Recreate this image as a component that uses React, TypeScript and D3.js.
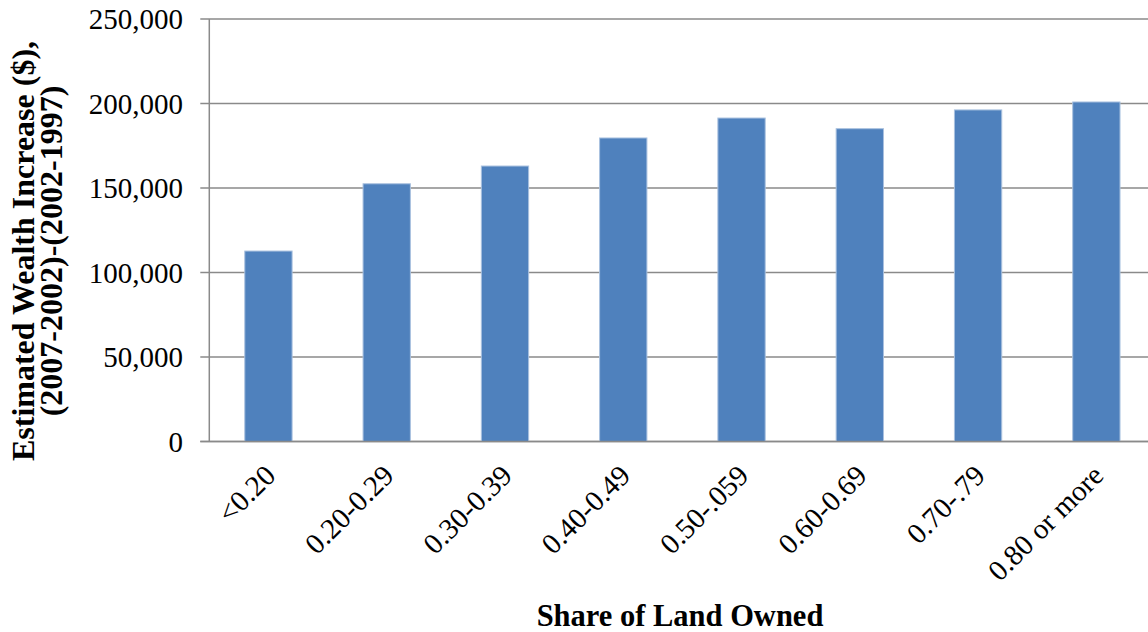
import * as d3 from "d3";

// Share of land owned categories and estimated wealth increase
const categories = ["<0.20", "0.20-0.29", "0.30-0.39", "0.40-0.49", "0.50-.059", "0.60-0.69", "0.70-.79", "0.80 or more"];
const values = [112700, 152500, 163000, 179600, 191400, 185100, 196200, 200900];
const yTicks = [0, 50000, 100000, 150000, 200000, 250000];

const WIDTH = 1148;
const HEIGHT = 632;
const PLOT = { left: 209.3, right: 1155.5, top: 19, bottom: 441.5 };
const FONT = "'Liberation Serif', 'Times New Roman', serif";
const GRID = "#8a8a8a";

export default function App() {
  const x = d3.scaleBand<string>().domain(categories).range([PLOT.left, PLOT.right]).paddingInner(0.6).paddingOuter(0.3);
  const y = d3.scaleLinear().domain([0, 250000]).range([PLOT.bottom, PLOT.top]);
  const fmt = d3.format(",");

  return (
    <svg
      width={WIDTH}
      height={HEIGHT}
      style={{ position: "absolute", left: 0, top: 0, background: "#fff" }}
      fontFamily={FONT}
    >
      {/* grid lines + y ticks */}
      {yTicks.map((t) => (
        <g key={t}>
          <line x1={PLOT.left - 9} x2={WIDTH} y1={y(t)} y2={y(t)} stroke={GRID} strokeWidth={1.5} />
          <text x={183} y={y(t)} textAnchor="end" dominantBaseline="central" fontSize={29}>
            {fmt(t)}
          </text>
        </g>
      ))}
      <line x1={PLOT.left} x2={PLOT.left} y1={PLOT.top} y2={PLOT.bottom} stroke={GRID} strokeWidth={1.5} />

      {/* bars */}
      {categories.map((c, i) => (
        <rect
          key={c}
          x={x(c)}
          y={y(values[i])}
          width={x.bandwidth()}
          height={PLOT.bottom - y(values[i])}
          fill="#4f81bd"
          stroke="#a9c1df"
          strokeWidth={1}
        />
      ))}
      <line x1={PLOT.left - 9} x2={WIDTH} y1={PLOT.bottom} y2={PLOT.bottom} stroke={GRID} strokeWidth={1.5} />

      {/* x labels */}
      {categories.map((c) => {
        const cx = (x(c) as number) + x.bandwidth() / 2;
        return (
          <text
            key={c}
            transform={`translate(${cx - 6},${PLOT.bottom + 21}) rotate(-45)`}
            textAnchor="end"
            dominantBaseline="hanging"
            fontSize={29}
          >
            {c}
          </text>
        );
      })}

      {/* axis titles */}
      <text x={680} y={626} textAnchor="middle" fontSize={30.5} fontWeight="bold">
        Share of Land Owned
      </text>
      <text transform="translate(23,251) rotate(-90)" textAnchor="middle" dominantBaseline="central" fontSize={32} fontWeight="bold">
        <tspan x={0} dy={0}>Estimated Wealth Increase ($),</tspan>
        <tspan x={0} dy={28}>(2007-2002)-(2002-1997)</tspan>
      </text>
    </svg>
  );
}
